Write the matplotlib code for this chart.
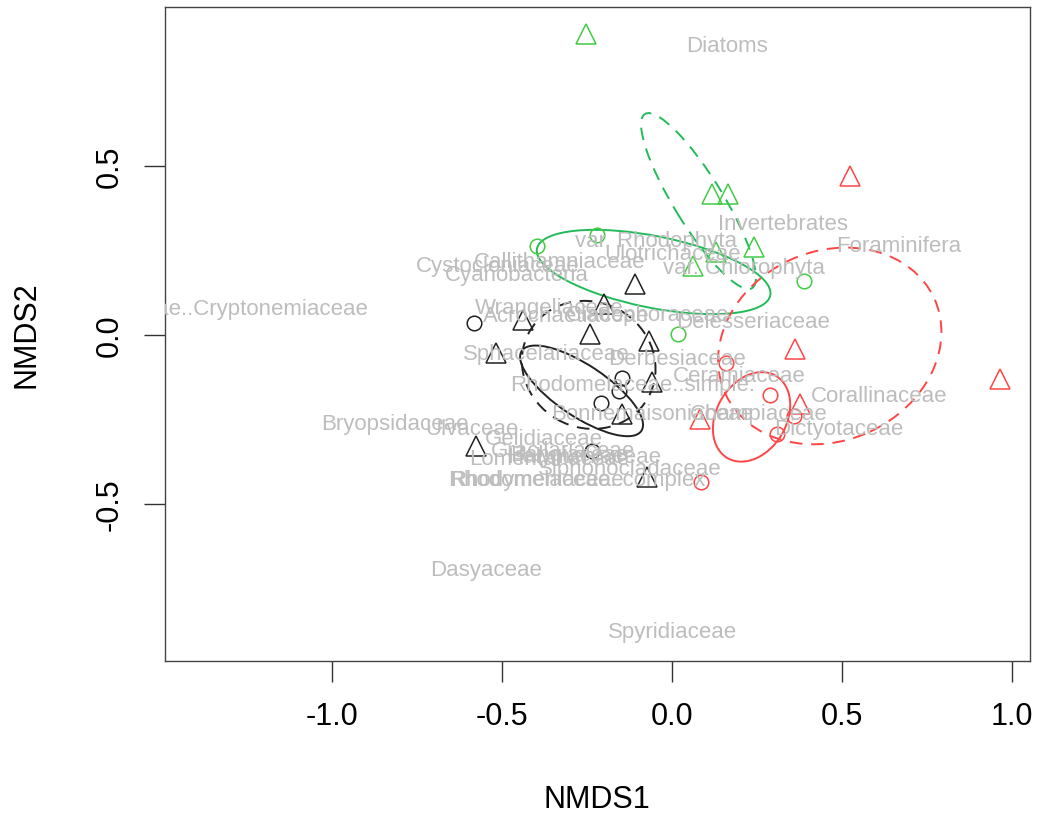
import numpy as np
import matplotlib
matplotlib.use("Agg")
import matplotlib.pyplot as plt
from matplotlib.patches import Ellipse

plt.rcParams['font.family'] = ['Liberation Sans', 'DejaVu Sans']

# site scores, split by group (colour) and shape
green_tri_x = [-0.253, 0.118, 0.165, 0.241, 0.129, 0.062]
green_tri_y = [0.890, 0.417, 0.417, 0.260, 0.245, 0.204]
green_cir_x = [-0.397, -0.221, 0.388, 0.020]
green_cir_y = [0.263, 0.296, 0.160, 0.003]

red_tri_x = [0.524, 0.965, 0.362, 0.082, 0.376]
red_tri_y = [0.470, -0.130, -0.041, -0.249, -0.204]
red_cir_x = [0.159, 0.288, 0.359, 0.309, 0.085]
red_cir_y = [-0.083, -0.178, -0.240, -0.293, -0.435]

black_tri_x = [-0.576, -0.518, -0.438, -0.241, -0.200, -0.109, -0.068, -0.059, -0.147, -0.074]
black_tri_y = [-0.328, -0.053, 0.044, 0.003, 0.092, 0.151, -0.018, -0.139, -0.234, -0.420]
black_cir_x = [-0.582, -0.147, -0.156, -0.209, -0.235]
black_cir_y = [0.035, -0.127, -0.166, -0.201, -0.343]

# ordiellipse results: centre x, centre y, semi-axis a, semi-axis b, angle (deg)
ell_green_solid = [-0.053, 0.186, 0.350, 0.106, -11.4]
ell_green_dash = [0.079, 0.396, 0.302, 0.072, -58.6]
ell_black_solid = [-0.265, -0.166, 0.212, 0.076, -34.0]
ell_black_dash = [-0.244, -0.089, 0.200, 0.186, -30.0]
ell_red_solid = [0.235, -0.243, 0.141, 0.103, 60.0]
ell_red_dash = [0.465, -0.033, 0.338, 0.280, 25.0]

# species scores (labels)
species = ["Diatoms", "Invertebrates", "Foraminifera", "var. Rhodophyta",
           "Ulotrichaceae", "var. Chlorophyta", "Callithamniaceae",
           "Cystocloniaceae", "Cyanobacteria", "Halymeniaceae..Cryptonemiaceae",
           "Wrangeliaceae", "Acrochaetiaceae", "Cladophoraceae", "Delesseriaceae",
           "Sphacelariaceae", "Derbesiaceae", "Ceramiaceae",
           "Rhodomelaceae..simple.", "Bonnemaisoniaceae", "Champiaceae",
           "Corallinaceae", "Dictyotaceae", "Bryopsidaceae", "Ulvaceae",
           "Gelidiaceae", "Gracilariaceae", "Lomentariaceae", "Bangiaceae",
           "Halymeniaceae", "Siphonocladaceae", "Rhodymeniaceae",
           "Rhodomelaceae..complex", "Dasyaceae", "Spyridiaceae"]
sp_x = [0.162, 0.326, 0.668, -0.045, 0.003, 0.212, -0.329, -0.512, -0.456,
        -1.394, -0.359, -0.309, -0.070, 0.239, -0.370, 0.017, 0.200, -0.115,
        -0.056, 0.256, 0.609, 0.491, -0.815, -0.588, -0.376, -0.320, -0.359,
        -0.300, -0.256, -0.124, -0.397, -0.279, -0.547, 0.003]
sp_y = [0.858, 0.331, 0.263, 0.279, 0.240, 0.200, 0.216, 0.204, 0.180, 0.077,
        0.080, 0.056, 0.060, 0.038, -0.056, -0.071, -0.121, -0.148, -0.234,
        -0.234, -0.180, -0.278, -0.263, -0.278, -0.308, -0.343, -0.367, -0.355,
        -0.361, -0.396, -0.429, -0.429, -0.695, -0.879]

green_pt = '#44cc44'
green_ell = '#22bb5a'
red = '#ff4545'
black = '#222222'
dashed = (0, (6.5, 4.5))

fig = plt.figure(figsize=(10.38, 8.2), dpi=100)
ax = fig.add_axes([0.159, 0.193, 0.833, 0.797])

for x, y, c in [(green_tri_x, green_tri_y, green_pt), (red_tri_x, red_tri_y, red),
                (black_tri_x, black_tri_y, black)]:
    ax.plot(x, y, ls='none', marker='^', ms=14, mfc='none', mec=c, mew=1.1)
for x, y, c in [(green_cir_x, green_cir_y, green_pt), (red_cir_x, red_cir_y, red),
                (black_cir_x, black_cir_y, black)]:
    ax.plot(x, y, ls='none', marker='o', ms=10.5, mfc='none', mec=c, mew=1.1)

for e, c, ls in [(ell_green_solid, green_ell, '-'), (ell_green_dash, green_ell, dashed),
                 (ell_black_solid, black, '-'), (ell_black_dash, black, dashed),
                 (ell_red_solid, red, '-'), (ell_red_dash, red, dashed)]:
    ax.add_patch(Ellipse((e[0], e[1]), 2 * e[2], 2 * e[3], angle=e[4],
                         fill=False, edgecolor=c, lw=1.4, ls=ls))

for name, x, y in zip(species, sp_x, sp_y):
    ax.text(x, y, name, color='#bdbdbd', fontsize=16, ha='center', va='center',
            clip_on=True)

ax.set_xlim(-1.49, 1.053)
ax.set_ylim(-0.965, 0.97)
ax.set_xticks([-1.0, -0.5, 0.0, 0.5, 1.0])
ax.set_yticks([-0.5, 0.0, 0.5])
ax.set_xticklabels(['-1.0', '-0.5', '0.0', '0.5', '1.0'])
ax.set_yticklabels(['-0.5', '0.0', '0.5'], rotation=90, va='center')
ax.tick_params(length=15, width=1, labelsize=22, pad=14, color='#333333')
ax.tick_params(axis='y', pad=14)
for s in ax.spines.values():
    s.set_color('#444444')
    s.set_linewidth(1.0)
ax.set_xlabel('NMDS1', fontsize=22, labelpad=38)
ax.set_ylabel('NMDS2', fontsize=22, labelpad=38)

fig.savefig('out.png', dpi=100)
